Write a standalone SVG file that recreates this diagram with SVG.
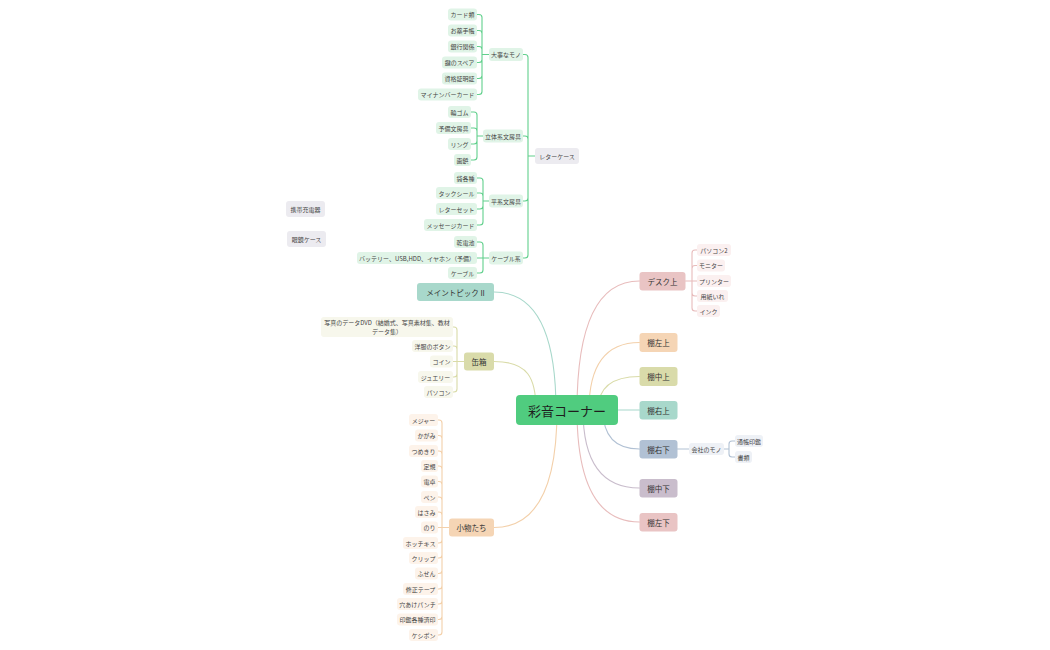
<svg xmlns="http://www.w3.org/2000/svg" width="1050" height="650" viewBox="0 0 1050 650">
<style>
.t{font-family:"Noto Sans CJK JP","Noto Sans",sans-serif;text-anchor:middle;dominant-baseline:central}
.s6{font-size:6px;fill:#444}
.s7{font-size:7.5px;fill:#333}
.sr{font-size:13px;fill:#1e1e1e}
.c{fill:none;stroke-width:1.1;stroke-linecap:round}
.gl{stroke:#62d08d}.pk{stroke:#e8bcbc}.pe{stroke:#f3d0aa}.ol{stroke:#d9dba8}.te{stroke:#a8d8cb}.bl{stroke:#b1c1d4}.pu{stroke:#c9bdcc}
.fg{fill:#e0f4e7}.fgr{fill:#ecebf0}.fol{fill:#f7f7ec}.fpe{fill:#fdf3ea}.fpk{fill:#fbf0f0}.fbl{fill:#eef1f6}
</style>
<rect width="1050" height="650" fill="#ffffff"/>
<g id="connectors">
<path class="c gl" d="M535 156H528V57.5Q528 54.5 525 54.5H523M535 156H528V139Q528 136 525 136H523M535 156H528V198Q528 201 525 201H523M535 156H528V255Q528 258 525 258H523"/>
<path class="c gl" d="M489 54.5H482V17.5Q482 14.5 479 14.5H477M489 54.5H482V33.5Q482 30.5 479 30.5H477M489 54.5H482V49.5Q482 46.5 479 46.5H477M489 54.5H482V59.5Q482 62.5 479 62.5H477M489 54.5H482V75.5Q482 78.5 479 78.5H477M489 54.5H482V91.5Q482 94.5 479 94.5H477"/>
<path class="c gl" d="M483 136H477V115Q477 112 474 112H471M483 136H477V131Q477 128 474 128H471M483 136H477V141Q477 144 474 144H471M483 136H477V157Q477 160 474 160H471"/>
<path class="c gl" d="M489 201H483V181Q483 178 480 178H477M489 201H483V196Q483 193 480 193H477M489 201H483V206Q483 209 480 209H477M489 201H483V222Q483 225 480 225H477"/>
<path class="c gl" d="M489 258H483V245Q483 242 480 242H477M489 258H477M489 258H483V270Q483 273 480 273H477"/>
<path class="c ol" d="M464 361.5H457V330Q457 327 454 327H453M464 361.5H457V349Q457 346 454 346H453M464 361.5H453M464 361.5H457V374Q457 377 454 377H453M464 361.5H457V389Q457 392 454 392H453"/>
<path class="c pe" d="M449 527.5H442V423Q442 420 439 420H438M449 527.5H442V438.5Q442 435.5 439 435.5H438M449 527.5H442V454Q442 451 439 451H438M449 527.5H442V469Q442 466 439 466H438M449 527.5H442V484.5Q442 481.5 439 481.5H438M449 527.5H442V500Q442 497 439 497H438M449 527.5H442V515Q442 512 439 512H438M449 527.5H438M449 527.5H442V540Q442 543 439 543H438M449 527.5H442V555Q442 558 439 558H438M449 527.5H442V570.5Q442 573.5 439 573.5H438M449 527.5H442V586Q442 589 439 589H438M449 527.5H442V601Q442 604 439 604H438M449 527.5H442V616.5Q442 619.5 439 619.5H438M449 527.5H442V632Q442 635 439 635H438"/>
<path class="c pk" d="M685.5 281H692V253Q692 250 695 250H697M685.5 281H692V268.5Q692 265.5 695 265.5H697M685.5 281H697M685.5 281H692V293Q692 296 695 296H697M685.5 281H692V308Q692 311 695 311H697"/>
<path class="c bl" d="M677 449H689M724 449H729V444Q729 441 732 441H735M724 449H729V454Q729 457 732 457H735"/>
<path class="c pk" d="M577 410Q577 281 639.5 281"/>
<path class="c pe" d="M589 410Q589 342.5 639.5 342.5"/>
<path class="c ol" d="M598 410Q598 376.5 639.5 376.5"/>
<path class="c te" d="M618 410H639.5"/>
<path class="c bl" d="M603 410Q603 449 639.5 449"/>
<path class="c pu" d="M583 410Q583 488 639.5 488"/>
<path class="c pk" d="M577 410Q577 522 639.5 522"/>
<path class="c te" d="M556 410Q556 292 494 292"/>
<path class="c ol" d="M536 410C536 378 528 361.5 494 361.5"/>
<path class="c pe" d="M557 410Q557 527.5 494 527.5"/>
</g>
<g id="root"><rect x="516" y="395" width="102" height="30" rx="4" fill="#50cc7f"/><text class="t sr" x="567" y="410">彩音コーナー</text></g>
<g id="n-desk"><rect x="639.5" y="272" width="46" height="18.5" rx="3" fill="#e9c4c4"/><text class="t s7" x="662.5" y="281">デスク上</text></g>
<g id="n-tana-lu"><rect x="639.5" y="333" width="38" height="19" rx="3" fill="#f5d5b5"/><text class="t s7" x="658.5" y="342.5">棚左上</text></g>
<g id="n-tana-cu"><rect x="639.5" y="367" width="38" height="19" rx="3" fill="#d9dbaa"/><text class="t s7" x="658.5" y="376.5">棚中上</text></g>
<g id="n-tana-ru"><rect x="639.5" y="401" width="38" height="18.5" rx="3" fill="#a8d8cb"/><text class="t s7" x="658.5" y="410">棚右上</text></g>
<g id="n-tana-rd"><rect x="639.5" y="440" width="38" height="18.5" rx="3" fill="#b1c1d4"/><text class="t s7" x="658.5" y="449">棚右下</text></g>
<g id="n-tana-cd"><rect x="639.5" y="479" width="38" height="18.5" rx="3" fill="#c9bdcc"/><text class="t s7" x="658.5" y="488">棚中下</text></g>
<g id="n-tana-ld"><rect x="639.5" y="513" width="38" height="18.5" rx="3" fill="#e9c4c4"/><text class="t s7" x="658.5" y="522">棚左下</text></g>
<g id="n-main2"><rect x="417" y="283" width="77" height="18" rx="3" fill="#a8d8cb"/><text class="t s7" x="455.5" y="292">メイントピック II</text></g>
<g id="n-kanbako"><rect x="464" y="352.5" width="30" height="18" rx="3" fill="#d9dbaa"/><text class="t s7" x="479" y="361.5">缶箱</text></g>
<g id="n-komono"><rect x="449" y="518.5" width="45" height="18" rx="3" fill="#f5d5b5"/><text class="t s7" x="471.5" y="527.5">小物たち</text></g>
<g id="n-lettercase"><rect class="fgr" x="535" y="148" width="44" height="16" rx="3"/><text class="t s6" x="557" y="156">レターケース</text></g>
<g id="n-charger"><rect class="fgr" x="286" y="201" width="39" height="16" rx="3"/><text class="t s6" x="305.5" y="209">携帯充電器</text></g>
<g id="n-glasses"><rect class="fgr" x="287" y="231" width="39" height="16" rx="3"/><text class="t s6" x="306.5" y="239">眼鏡ケース</text></g>
<g id="n-daiji"><rect class="fg" x="489" y="48" width="34" height="13" rx="3"/><text class="t s6" x="506" y="54.5">大事なモノ</text></g>
<g id="n-card"><rect class="fg" x="448" y="8.5" width="29" height="12" rx="3"/><text class="t s6" x="462.5" y="14.5">カード類</text></g>
<g id="n-okusuri"><rect class="fg" x="448" y="24.5" width="29" height="12" rx="3"/><text class="t s6" x="462.5" y="30.5">お薬手帳</text></g>
<g id="n-ginko"><rect class="fg" x="448" y="40.5" width="29" height="12" rx="3"/><text class="t s6" x="462.5" y="46.5">銀行関係</text></g>
<g id="n-kagi"><rect class="fg" x="442" y="56.5" width="35" height="12" rx="3"/><text class="t s6" x="459.5" y="62.5">鍵のスペア</text></g>
<g id="n-shikaku"><rect class="fg" x="442" y="72.5" width="35" height="12" rx="3"/><text class="t s6" x="459.5" y="78.5">資格証明証</text></g>
<g id="n-mynumber"><rect class="fg" x="418" y="88.5" width="59" height="12" rx="3"/><text class="t s6" x="447.5" y="94.5">マイナンバーカード</text></g>
<g id="n-rittai"><rect class="fg" x="483" y="129.5" width="40" height="13" rx="3"/><text class="t s6" x="503" y="136">立体系文房具</text></g>
<g id="n-wagomu"><rect class="fg" x="448" y="106" width="23" height="12" rx="3"/><text class="t s6" x="459.5" y="112">輪ゴム</text></g>
<g id="n-yobi"><rect class="fg" x="436" y="122" width="35" height="12" rx="3"/><text class="t s6" x="453.5" y="128">予備文房具</text></g>
<g id="n-ring"><rect class="fg" x="448" y="138" width="23" height="12" rx="3"/><text class="t s6" x="459.5" y="144">リング</text></g>
<g id="n-gabyo"><rect class="fg" x="454" y="154" width="17" height="12" rx="3"/><text class="t s6" x="462.5" y="160">画鋲</text></g>
<g id="n-hira"><rect class="fg" x="489" y="194.5" width="34" height="13" rx="3"/><text class="t s6" x="506" y="201">平系文房具</text></g>
<g id="n-fukuro"><rect class="fg" x="454" y="172" width="23" height="12" rx="3"/><text class="t s6" x="465.5" y="178">袋各種</text></g>
<g id="n-tack"><rect class="fg" x="436" y="187" width="41" height="12" rx="3"/><text class="t s6" x="456.5" y="193">タックシール</text></g>
<g id="n-letterset"><rect class="fg" x="436" y="203" width="41" height="12" rx="3"/><text class="t s6" x="456.5" y="209">レターセット</text></g>
<g id="n-message"><rect class="fg" x="424" y="219" width="53" height="12" rx="3"/><text class="t s6" x="450.5" y="225">メッセージカード</text></g>
<g id="n-cable-kei"><rect class="fg" x="489" y="251.5" width="34" height="13" rx="3"/><text class="t s6" x="506" y="258">ケーブル系</text></g>
<g id="n-battery"><rect class="fg" x="454" y="236" width="23" height="12" rx="3"/><text class="t s6" x="465.5" y="242">乾電池</text></g>
<g id="n-usb"><rect class="fg" x="357" y="252" width="120" height="12" rx="3"/><text class="t s6" x="417" y="258">バッテリー、USB,HDD、イヤホン（予備）</text></g>
<g id="n-cable"><rect class="fg" x="448" y="267" width="29" height="12" rx="3"/><text class="t s6" x="462.5" y="273">ケーブル</text></g>
<g id="n-dvd"><rect class="fol" x="321" y="317" width="132" height="20" rx="3"/><text class="t s6" x="387" y="322.5">写真のデータDVD（結婚式、写真素材集、教材</text><text class="t s6" x="387" y="331.5">データ集）</text></g>
<g id="n-button"><rect class="fol" x="412" y="340" width="41" height="12" rx="3"/><text class="t s6" x="432.5" y="346">洋服のボタン</text></g>
<g id="n-coin"><rect class="fol" x="430" y="355.5" width="23" height="12" rx="3"/><text class="t s6" x="441.5" y="361.5">コイン</text></g>
<g id="n-jewelry"><rect class="fol" x="418" y="371" width="35" height="12" rx="3"/><text class="t s6" x="435.5" y="377">ジュエリー</text></g>
<g id="n-pc1"><rect class="fol" x="424" y="386" width="29" height="12" rx="3"/><text class="t s6" x="438.5" y="392">パソコン</text></g>
<g id="n-measure"><rect class="fpe" x="409" y="414" width="29" height="12" rx="3"/><text class="t s6" x="423.5" y="420">メジャー</text></g>
<g id="n-kagami"><rect class="fpe" x="415" y="429.5" width="23" height="12" rx="3"/><text class="t s6" x="426.5" y="435.5">かがみ</text></g>
<g id="n-tsume"><rect class="fpe" x="409" y="445" width="29" height="12" rx="3"/><text class="t s6" x="423.5" y="451">つめきり</text></g>
<g id="n-jogi"><rect class="fpe" x="421" y="460" width="17" height="12" rx="3"/><text class="t s6" x="429.5" y="466">定規</text></g>
<g id="n-dentaku"><rect class="fpe" x="421" y="475.5" width="17" height="12" rx="3"/><text class="t s6" x="429.5" y="481.5">電卓</text></g>
<g id="n-pen"><rect class="fpe" x="421" y="491" width="17" height="12" rx="3"/><text class="t s6" x="429.5" y="497">ペン</text></g>
<g id="n-hasami"><rect class="fpe" x="415" y="506" width="23" height="12" rx="3"/><text class="t s6" x="426.5" y="512">はさみ</text></g>
<g id="n-nori"><rect class="fpe" x="421" y="521.5" width="17" height="12" rx="3"/><text class="t s6" x="429.5" y="527.5">のり</text></g>
<g id="n-hotchkiss"><rect class="fpe" x="403" y="537" width="35" height="12" rx="3"/><text class="t s6" x="420.5" y="543">ホッチキス</text></g>
<g id="n-clip"><rect class="fpe" x="409" y="552" width="29" height="12" rx="3"/><text class="t s6" x="423.5" y="558">クリップ</text></g>
<g id="n-fusen"><rect class="fpe" x="415" y="567.5" width="23" height="12" rx="3"/><text class="t s6" x="426.5" y="573.5">ふせん</text></g>
<g id="n-shusei"><rect class="fpe" x="403" y="583" width="35" height="12" rx="3"/><text class="t s6" x="420.5" y="589">修正テープ</text></g>
<g id="n-punch"><rect class="fpe" x="397" y="598" width="41" height="12" rx="3"/><text class="t s6" x="417.5" y="604">穴あけパンチ</text></g>
<g id="n-inkan"><rect class="fpe" x="397" y="613.5" width="41" height="12" rx="3"/><text class="t s6" x="417.5" y="619.5">印鑑各種済印</text></g>
<g id="n-keshipon"><rect class="fpe" x="409" y="629" width="29" height="12" rx="3"/><text class="t s6" x="423.5" y="635">ケシポン</text></g>
<g id="n-pc2"><rect class="fpk" x="697" y="244" width="34" height="12" rx="3"/><text class="t s6" x="714" y="250">パソコン2</text></g>
<g id="n-monitor"><rect class="fpk" x="697" y="259.5" width="28" height="12" rx="3"/><text class="t s6" x="711" y="265.5">モニター</text></g>
<g id="n-printer"><rect class="fpk" x="697" y="275" width="34" height="12" rx="3"/><text class="t s6" x="714" y="281">プリンター</text></g>
<g id="n-paper"><rect class="fpk" x="697" y="290" width="31" height="12" rx="3"/><text class="t s6" x="712.5" y="296">用紙いれ</text></g>
<g id="n-ink"><rect class="fpk" x="697" y="305" width="23" height="12" rx="3"/><text class="t s6" x="708.5" y="311">インク</text></g>
<g id="n-company"><rect class="fbl" x="689" y="443" width="35" height="12" rx="3"/><text class="t s6" x="706.5" y="449">会社のモノ</text></g>
<g id="n-tsucho"><rect class="fbl" x="735" y="435" width="28" height="12" rx="3"/><text class="t s6" x="749" y="441">通帳印鑑</text></g>
<g id="n-shorui"><rect class="fbl" x="735" y="451" width="17" height="12" rx="3"/><text class="t s6" x="743.5" y="457">書類</text></g>
</svg>
